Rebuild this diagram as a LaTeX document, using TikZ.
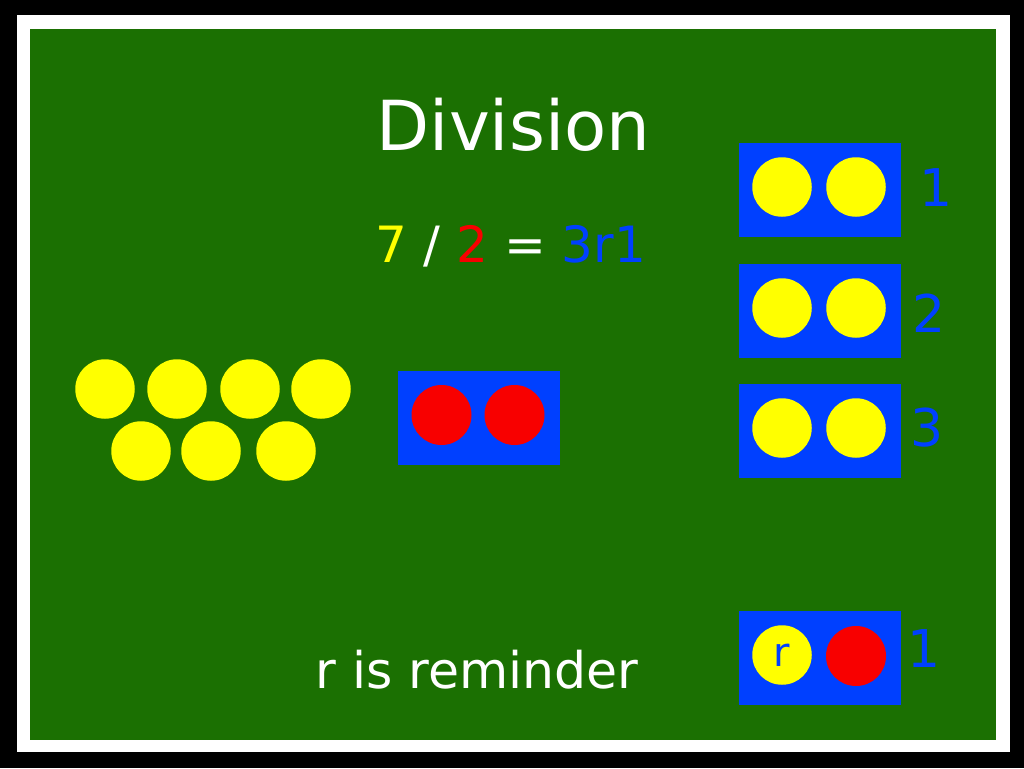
\documentclass[tikz,border=0pt]{standalone}
\usepackage{fontspec}
\setmainfont{DejaVu Sans}
\definecolor{bgreen}{RGB}{27,112,2}
\definecolor{bblue}{RGB}{0,64,255}
\definecolor{byellow}{RGB}{255,255,0}
\definecolor{bred}{RGB}{248,0,0}
\tikzset{
  ybead/.style={circle,fill=byellow,draw=none,minimum size=59.5pt,inner sep=0pt},
  rbead/.style={circle,fill=bred,draw=none,minimum size=60pt,inner sep=0pt},
  group/.style={rectangle,fill=bblue,draw=none,minimum width=162pt,minimum height=94pt,inner sep=0pt},
  txt/.style={inner sep=0pt,anchor=base},
  lbl/.style={txt,text=bblue,font=\fontsize{52}{60}\selectfont},
}
\begin{document}
\begin{tikzpicture}[x=1pt,y=-1pt]
\useasboundingbox (0,0) rectangle (1024,768);
\fill[black] (0,0) rectangle (1024,768);
\fill[white] (17,15) rectangle (1010,752);
\fill[bgreen] (30,29) rectangle (996,740);

\node[txt,text=white,font=\fontsize{69}{80}\selectfont] (title) at (513.5,150) {Division};
\node[txt,font=\fontsize{50}{58}\selectfont] (eq) at (511,262)
  {\textcolor{byellow}{7} \textcolor{white}{/} \textcolor{bred}{2} \textcolor{white}{=} \textcolor{bblue}{3r1}};
\node[txt,text=white,font=\fontsize{50.5}{60}\selectfont] (note) at (477,688) {r is reminder};

% seven yellow beads
\node[ybead] (y1) at (105,389) {};
\node[ybead] (y2) at (177,389) {};
\node[ybead] (y3) at (250,389) {};
\node[ybead] (y4) at (321,389) {};
\node[ybead] (y5) at (141,451) {};
\node[ybead] (y6) at (211,451) {};
\node[ybead] (y7) at (286,451) {};

% divisor box
\node[group] (divbox) at (479,418) {};
\node[rbead] (d1) at (441.5,415) {};
\node[rbead] (d2) at (514.5,415) {};

% groups
\node[group] (g1) at (820,190) {};
\node[ybead] (g1a) at (782,187) {};
\node[ybead] (g1b) at (856,187) {};
\node[lbl] (l1) at (936.5,206) {1};

\node[group] (g2) at (820,311) {};
\node[ybead] (g2a) at (782,308) {};
\node[ybead] (g2b) at (856,308) {};
\node[lbl] (l2) at (929.5,332) {2};

\node[group] (g3) at (820,431) {};
\node[ybead] (g3a) at (782,428) {};
\node[ybead] (g3b) at (856,428) {};
\node[lbl] (l3) at (927.5,446) {3};

\node[group] (g4) at (820,658) {};
\node[ybead] (g4a) at (782,655) {};
\node[rbead] (g4b) at (856,656) {};
\node[txt,text=bblue,font=\fontsize{40}{48}\selectfont] (rr) at (782,666) {r};
\node[lbl] (l4) at (924.5,667) {1};
\end{tikzpicture}
\end{document}
